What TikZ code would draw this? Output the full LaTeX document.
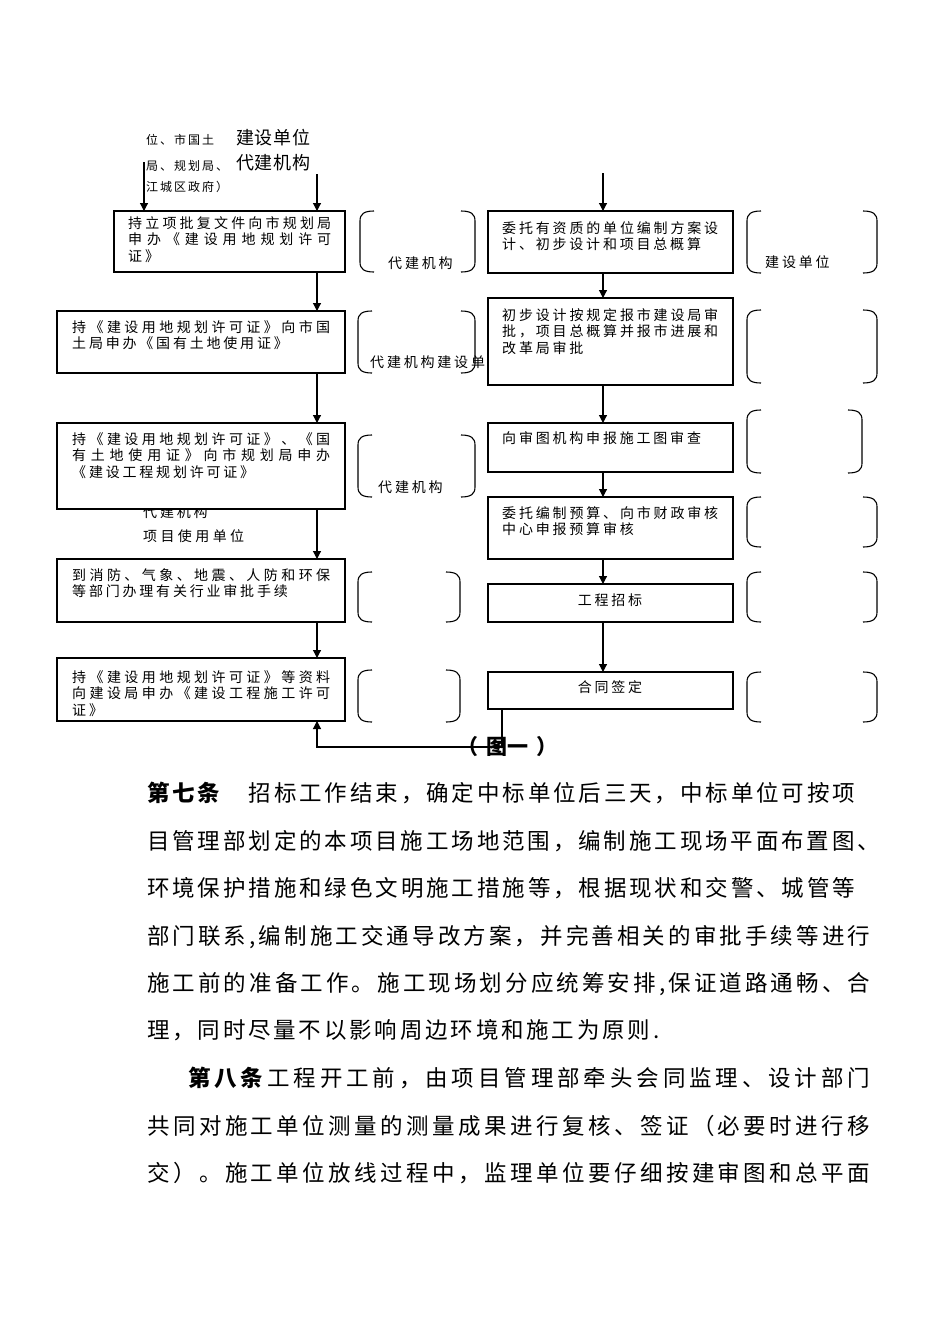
\documentclass[tikz,border=0pt]{standalone}
\usepackage{fontspec}
\setmainfont{Noto Sans CJK SC}
\usetikzlibrary{arrows.meta}
\makeatletter
\newdimen\cjkgap \cjkgap=2.8pt
\def\cjN#1{\hbox{\cjns@first#1\relax}}
\def\cjns@first#1{#1\cjns@rest}
\def\cjns@rest#1{\ifx#1\relax\else\kern\cjkgap#1\expandafter\cjns@rest\fi}
\def\cjJ#1#2{\hbox to #1{\cjjs@first#2\relax}}
\def\cjjs@first#1{#1\cjjs@rest}
\def\cjjs@rest#1{\ifx#1\relax\else\hfil#1\expandafter\cjjs@rest\fi}
\def\cjJB#1#2#3{\hbox to #1{{\bfseries\cjjs@first#2\relax}\hfil\cjjs@first#3\relax}}
\def\cjLines#1{\vtop{\baselineskip=16.5pt\lineskiplimit=-100pt\lineskip=0pt #1}}
\makeatother
\newcommand\cjlbr[3]{\draw[brk] (#1+14,#2) .. controls (#1+4,#2) and (#1,#2+3) .. (#1,#2+10) -- (#1,#3-10) .. controls (#1,#3-3) and (#1+4,#3) .. (#1+14,#3);}
\newcommand\cjrbr[3]{\draw[brk] (#1-14,#2) .. controls (#1-4,#2) and (#1,#2+3) .. (#1,#2+10) -- (#1,#3-10) .. controls (#1,#3-3) and (#1-4,#3) .. (#1-14,#3);}
\tikzset{
  box/.style={draw, line width=1.2pt, fill=white, inner sep=0pt, outer sep=0pt, anchor=north west},
  btxt/.style={inner sep=0pt, anchor=base west, font=\fontsize{14}{16.5}\selectfont},
  lbl/.style={inner sep=0pt, anchor=west, font=\fontsize{14}{16.5}\selectfont},
  small/.style={inner sep=0pt, anchor=west, font=\fontsize{12}{14}\selectfont},
  big/.style={inner sep=0pt, anchor=west, font=\fontsize{18}{20}\selectfont},
  body/.style={inner sep=0pt, anchor=base west, font=\fontsize{22.5}{26}\selectfont},
  brk/.style={line width=1.1pt},
  arr/.style={line width=1.2pt, -{Triangle[width=8pt,length=8pt]}}
}
\begin{document}
\begin{tikzpicture}[x=1pt,y=-1pt]
\useasboundingbox (0,0) rectangle (950,1344);
% labels partly hidden behind box
\node[lbl] (u1) at (143,512) {\cjN{代建机构}};
\node[lbl] (u2) at (143,536) {\cjkgap=3.4pt\cjN{项目使用单位}};
% top labels
\node[small] (s1) at (146,140) {\cjkgap=2pt\cjN{位、市国土}};
\node[small] (s2) at (146,166) {\cjkgap=2pt\cjN{局、规划局、}};
\node[small] (s3) at (146,187) {\cjkgap=2pt\cjN{江城区政府）}};
\node[big] (s4) at (236,138) {\cjkgap=0.6pt\cjN{建设单位}};
\node[big] (s5) at (236,163) {\cjkgap=0.6pt\cjN{代建机构}};
% boxes
\node[box, minimum width=231pt, minimum height=61pt] (L1) at (114,211) {};
\node[box, minimum width=288pt, minimum height=62pt] (L2) at (57,311) {};
\node[box, minimum width=288pt, minimum height=86pt] (L3) at (57,423) {};
\node[box, minimum width=288pt, minimum height=63pt] (L4) at (57,559) {};
\node[box, minimum width=288pt, minimum height=63pt] (L5) at (57,658) {};
\node[box, minimum width=245pt, minimum height=62pt] (R1) at (488,211) {};
\node[box, minimum width=245pt, minimum height=87pt] (R2) at (488,298) {};
\node[box, minimum width=245pt, minimum height=49pt] (R3) at (488,423) {};
\node[box, minimum width=245pt, minimum height=62pt] (R4) at (488,497) {};
\node[box, minimum width=245pt, minimum height=38pt] (R5) at (488,584) {};
\node[box, minimum width=245pt, minimum height=37pt] (R6) at (488,672) {};
% box texts
\node[btxt] (L1t) at (128,228) {\cjLines{\cjJ{203pt}{持立项批复文件向市规划局}\cjJ{203pt}{申办《建设用地规划许可}\cjN{证》}}};
\node[btxt] (L2t) at (72,332) {\cjLines{\cjJ{258pt}{持《建设用地规划许可证》向市国}\cjN{土局申办《国有土地使用证》}}};
\node[btxt] (L3t) at (72,444) {\cjLines{\cjJ{258pt}{持《建设用地规划许可证》、《国}\cjJ{258pt}{有土地使用证》向市规划局申办}\cjN{《建设工程规划许可证》}}};
\node[btxt] (L4t) at (72,580) {\cjLines{\cjJ{258pt}{到消防、气象、地震、人防和环保}\cjN{等部门办理有关行业审批手续}}};
\node[btxt] (L5t) at (72,682) {\cjLines{\cjJ{258pt}{持《建设用地规划许可证》等资料}\cjJ{258pt}{向建设局申办《建设工程施工许可}\cjN{证》}}};
\node[btxt] (R1t) at (502,233) {\cjLines{\cjJ{216pt}{委托有资质的单位编制方案设}\cjN{计、初步设计和项目总概算}}};
\node[btxt] (R2t) at (502,320) {\cjLines{\cjJ{216pt}{初步设计按规定报市建设局审}\cjJ{216pt}{批，项目总概算并报市进展和}\cjN{改革局审批}}};
\node[btxt] (R3t) at (502,443) {\cjLines{\cjN{向审图机构申报施工图审查}}};
\node[btxt] (R4t) at (502,518) {\cjLines{\cjJ{216pt}{委托编制预算、向市财政审核}\cjN{中心申报预算审核}}};
\node[lbl, anchor=center] (R5t) at (610,600) {\cjN{工程招标}};
\node[lbl, anchor=center] (R6t) at (610,687) {\cjN{合同签定}};
% arrows
\coordinate (xL) at (317,0);
\coordinate (xR) at (603,0);
\coordinate (t1) at (144,162);
\coordinate (t2) at (317,174);
\coordinate (t3) at (603,173);
\draw[arr] (t1) -- (t1 |- L1.north);
\draw[arr] (t2) -- (t2 |- L1.north);
\draw[arr] (L1.south -| xL) -- (L2.north -| xL);
\draw[arr] (L2.south -| xL) -- (L3.north -| xL);
\draw[arr] (L3.south -| xL) -- (L4.north -| xL);
\draw[arr] (L4.south -| xL) -- (L5.north -| xL);
\draw[arr] (t3) -- (t3 |- R1.north);
\draw[arr] (R1.south -| xR) -- (R2.north -| xR);
\draw[arr] (R2.south -| xR) -- (R3.north -| xR);
\draw[arr] (R3.south -| xR) -- (R4.north -| xR);
\draw[arr] (R4.south -| xR) -- (R5.north -| xR);
\draw[arr] (R5.south -| xR) -- (R6.north -| xR);
\coordinate (c1) at (502,747);
\coordinate (c2) at (317,747);
\node[inner sep=0pt, anchor=west, font=\bfseries\fontsize{21}{24}\selectfont] (fig) at (457,747) {（\kern8pt 图一\kern8pt ）};
\draw[arr] (R6.south -| c1) -- (c1) -- (c2) -- (L5.south -| c2);
% brackets
\cjlbr{360}{211}{272} \cjrbr{475}{211}{272}
\cjlbr{358}{311}{373} \cjrbr{475}{311}{373}
\cjlbr{358}{435}{497} \cjrbr{475}{435}{497}
\cjlbr{358}{572}{622} \cjrbr{460}{572}{622}
\cjlbr{358}{670}{722} \cjrbr{460}{670}{722}
\cjlbr{747}{211}{273} \cjrbr{877}{211}{273}
\cjlbr{747}{310}{383} \cjrbr{877}{310}{383}
\cjlbr{747}{410}{473} \cjrbr{862}{410}{473}
\cjlbr{747}{497}{547} \cjrbr{877}{497}{547}
\cjlbr{747}{572}{622} \cjrbr{877}{572}{622}
\cjlbr{747}{672}{722} \cjrbr{877}{672}{722}
\node[lbl] (b1t) at (388,263) {\cjN{代建机构}};
\node[lbl] (b2t) at (370,362) {\cjN{代建机构建设单}};
\node[lbl] (b3t) at (378,487) {\cjN{代建机构}};
\node[lbl] (b7t) at (765,262) {\cjN{建设单位}};
% body text
\node[body] (p1) at (147,801) {\cjJB{708pt}{第七条}{　招标工作结束，确定中标单位后三天，中标单位可按项}};
\node[body] (p2) at (147,849) {\cjJ{733pt}{目管理部划定的本项目施工场地范围，编制施工现场平面布置图、}};
\node[body] (p3) at (147,896) {\cjJ{708pt}{环境保护措施和绿色文明施工措施等，根据现状和交警、城管等}};
\node[body] (p4) at (147,944) {\cjJ{723pt}{部门联系,编制施工交通导改方案，并完善相关的审批手续等进行}};
\node[body] (p5) at (147,991) {\cjJ{723pt}{施工前的准备工作。施工现场划分应统筹安排,保证道路通畅、合}};
\node[body] (p6) at (147,1038) {\cjkgap=2.8pt\cjN{理，同时尽量不以影响周边环境和施工为原则.}};
\node[body] (p7) at (188,1086) {\cjJB{682pt}{第八条}{工程开工前，由项目管理部牵头会同监理、设计部门}};
\node[body] (p8) at (147,1134) {\cjJ{723pt}{共同对施工单位测量的测量成果进行复核、签证（必要时进行移}};
\node[body] (p9) at (147,1181) {\cjJ{723pt}{交）。施工单位放线过程中，监理单位要仔细按建审图和总平面}};
\end{tikzpicture}
\end{document}
